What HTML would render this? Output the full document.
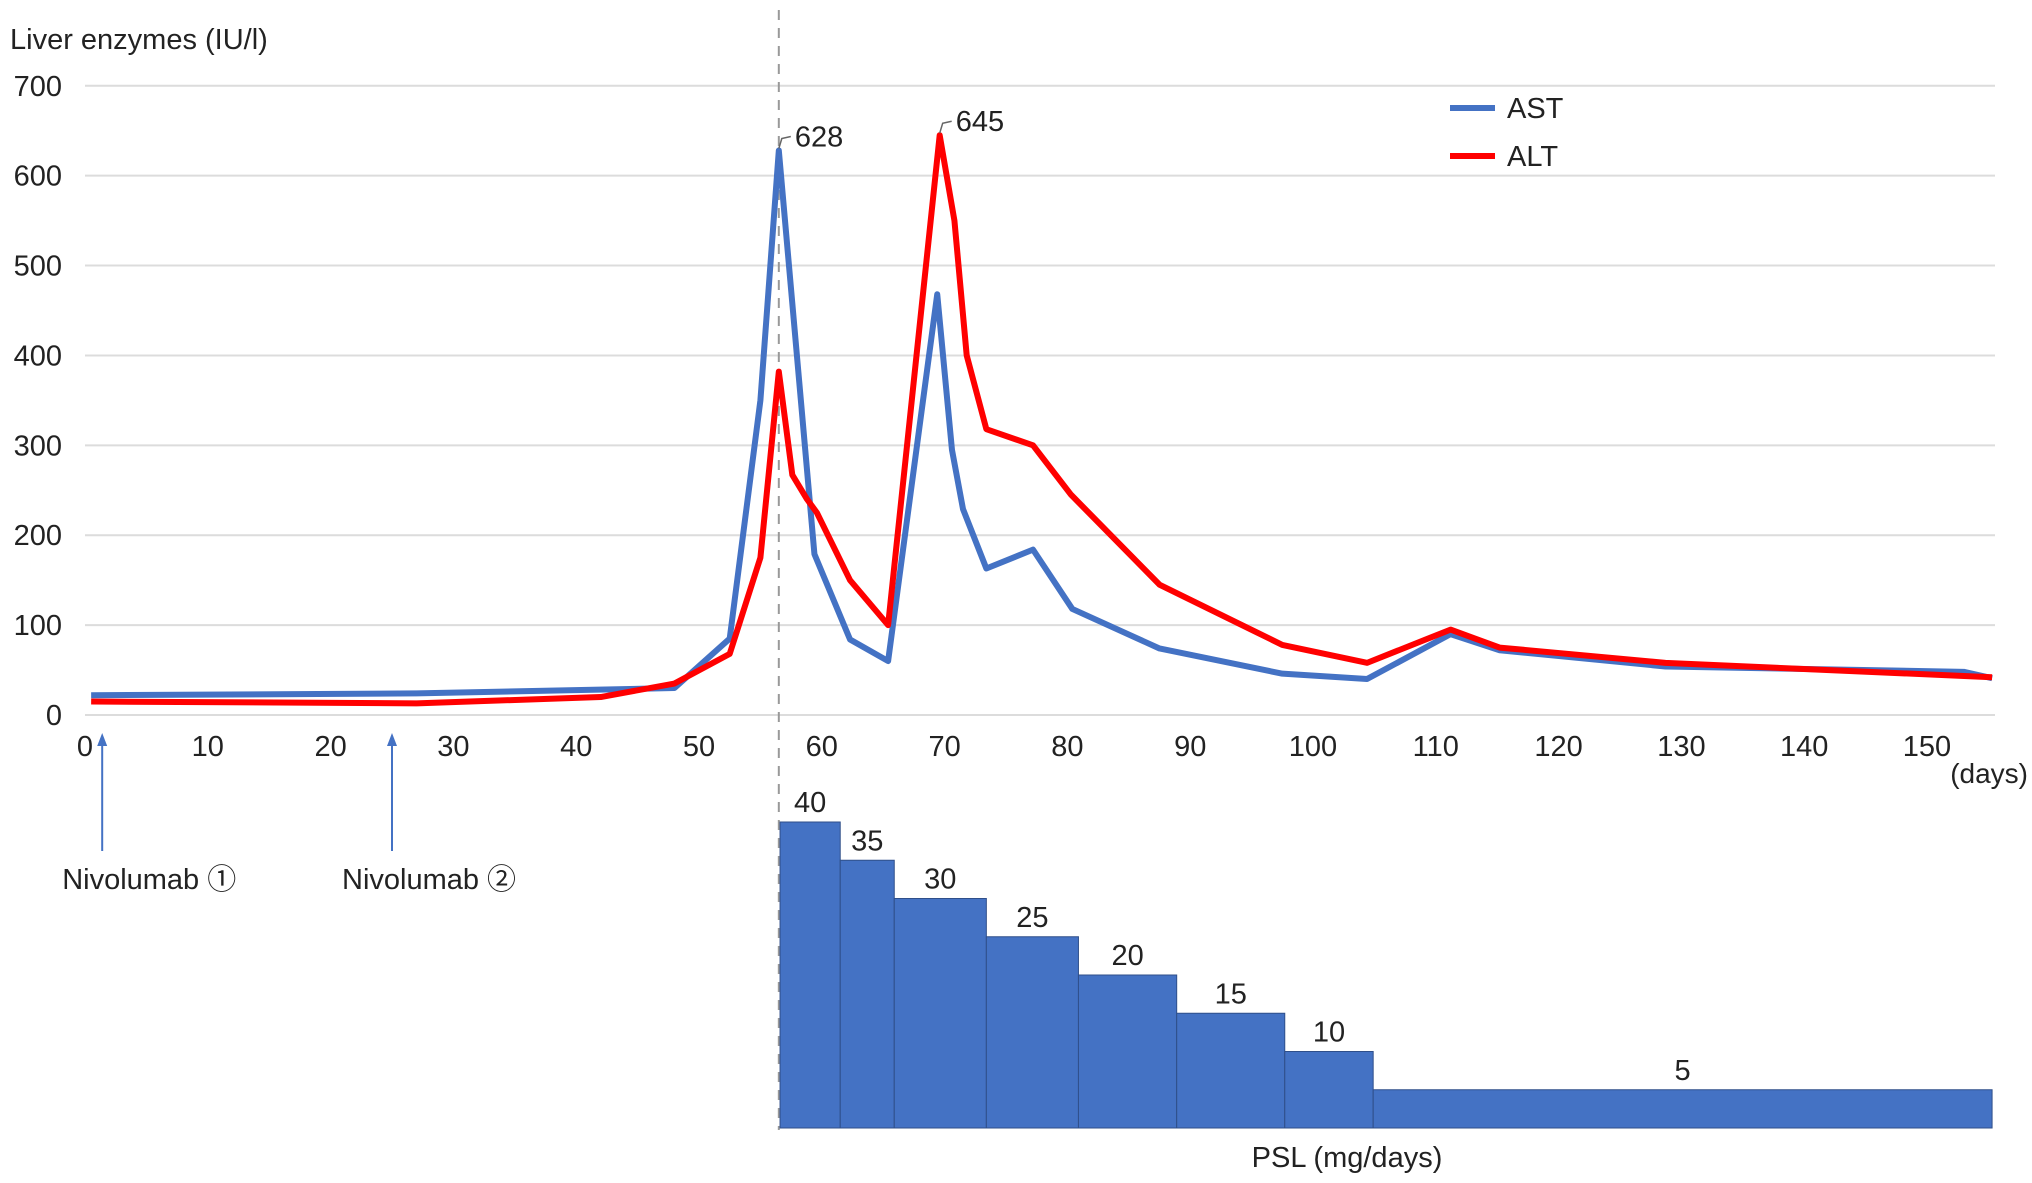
<!DOCTYPE html>
<html><head><meta charset="utf-8"><style>
html,body{margin:0;padding:0;background:#fff;}
svg{display:block;font-family:"Liberation Sans","Noto Sans CJK JP",sans-serif;}
</style></head><body>
<svg id="c" width="2032" height="1183" viewBox="0 0 2032 1183"></svg>
<script>
const yTicks=[0,100,200,300,400,500,600,700];
const xTicks=[0,10,20,30,40,50,60,70,80,90,100,110,120,130,140,150];
const astDays=[0.5,27,48,52.5,55,56.5,59.4,62.3,65.4,69.4,70.6,71.5,73.4,77.2,80.4,87.5,97.5,104.4,111.2,115.2,128.7,153,155.3];
const astVals=[22,24,30,85,350,628,179,84,60,468,295,229,163,184,118,74,46,40,90,72,54,48,41];
const altDays=[0.5,27,42,48,52.5,55,56.5,57.6,58.8,59.6,62.3,65.4,69.6,70.8,71.8,73.4,77.2,80.3,87.5,97.5,104.4,111.2,115.2,128.7,155.3];
const altVals=[15,13,20,35,68,175,382,267,240,225,150,100,645,550,400,318,300,245,145,78,58,95,75,58,42];
const pslStart=[56.6,61.5,65.9,73.4,80.9,88.9,97.7,104.9];
const pslEnd=[61.5,65.9,73.4,80.9,88.9,97.7,104.9,155.3];
const pslDose=[40,35,30,25,20,15,10,5];
const nivoDays=[1.4,25];
const nivoLabels=["Nivolumab \u2460","Nivolumab \u2461"];
const peakDays=[56.5,69.6];
const peakVals=[628,645];

const svg=document.getElementById('c');
const NS='http://www.w3.org/2000/svg';
const X0=85,DX=12.28,Y0=715,DY=0.8989;
const xs=d=>X0+d*DX, ys=v=>Y0-v*DY;
const BB=1128,BU=7.65;
function mk(t,a,txt){const e=document.createElementNS(NS,t);for(const k in a)e.setAttribute(k,a[k]);if(txt!=null)e.textContent=txt;svg.appendChild(e);return e;}

yTicks.forEach(v=>{
 const g=mk('line',{x1:X0,x2:1995,y1:ys(v),y2:ys(v),stroke:'#dcdcdc','stroke-width':2});
 
 
 const t=mk('text',{x:62,y:ys(v)+10,'text-anchor':'end','font-size':29,fill:'#222'},v);
 
 
});
xTicks.forEach(d=>{
 const t=mk('text',{x:xs(d),y:756,'text-anchor':'middle','font-size':29,fill:'#222'},d);
 
 
});
let t=mk('text',{x:10,y:49,'font-size':29,fill:'#222'},'Liver enzymes (IU/l)');


t=mk('text',{x:2028,y:783,'text-anchor':'end','font-size':28,fill:'#222'},'(days)');



t=mk('line',{x1:xs(56.5),x2:xs(56.5),y1:10,y2:1130,stroke:'#999','stroke-width':2,'stroke-dasharray':'10,8'});



pslDose.forEach((v,i)=>{
 const x1=xs(pslStart[i]),x2=xs(pslEnd[i]);
 const r=mk('rect',{x:x1,y:BB-v*BU,width:x2-x1,height:v*BU,fill:'#4472c4',stroke:'#2f4f8a','stroke-width':1});
 
 
 const l=mk('text',{x:(x1+x2)/2,y:BB-v*BU-10,'text-anchor':'middle','font-size':29,fill:'#222'},v);
 
 
});
t=mk('text',{x:1347,y:1167,'text-anchor':'middle','font-size':29,fill:'#222'},'PSL (mg/days)');



function line(days,vals,col,name){
 const p=mk('polyline',{points:days.map((d,i)=>xs(d)+','+ys(vals[i])).join(' '),fill:'none',stroke:col,'stroke-width':6,'stroke-linejoin':'round'});
 
 
}
line(astDays,astVals,'#4472c4','ast-line');
line(altDays,altVals,'#ff0000','alt-line');

peakDays.forEach((d,i)=>{
 const x=xs(d),y=ys(peakVals[i]);
 const p=mk('path',{d:`M${x},${y-2} L${x+3},${y-12} L${x+12},${y-14}`,fill:'none',stroke:'#666','stroke-width':1.5});
 
 
 const l=mk('text',{x:x+16,y:y-4,'font-size':29,fill:'#222'},peakVals[i]);
 
 
});

nivoDays.forEach((d,i)=>{
 const x=xs(d);
 const a=mk('line',{x1:x,x2:x,y1:851,y2:742,stroke:'#4472c4','stroke-width':2});
 
 
 const h=mk('path',{d:`M${x-5},${746} L${x},${733} L${x+5},${746} Z`,fill:'#4472c4'});
 
 
 const l=mk('text',{x:x-40-(i?10:0),y:889,'font-size':29,fill:'#222'},nivoLabels[i]);
 
 
});

[['AST','#4472c4',108],['ALT','#ff0000',156]].forEach(([n,c,y])=>{
 const l=mk('line',{x1:1450,x2:1495,y1:y,y2:y,stroke:c,'stroke-width':6});
 
 
 const tx=mk('text',{x:1507,y:y+10,'font-size':29,fill:'#222'},n);
 
 
});
</script>
</body></html>
